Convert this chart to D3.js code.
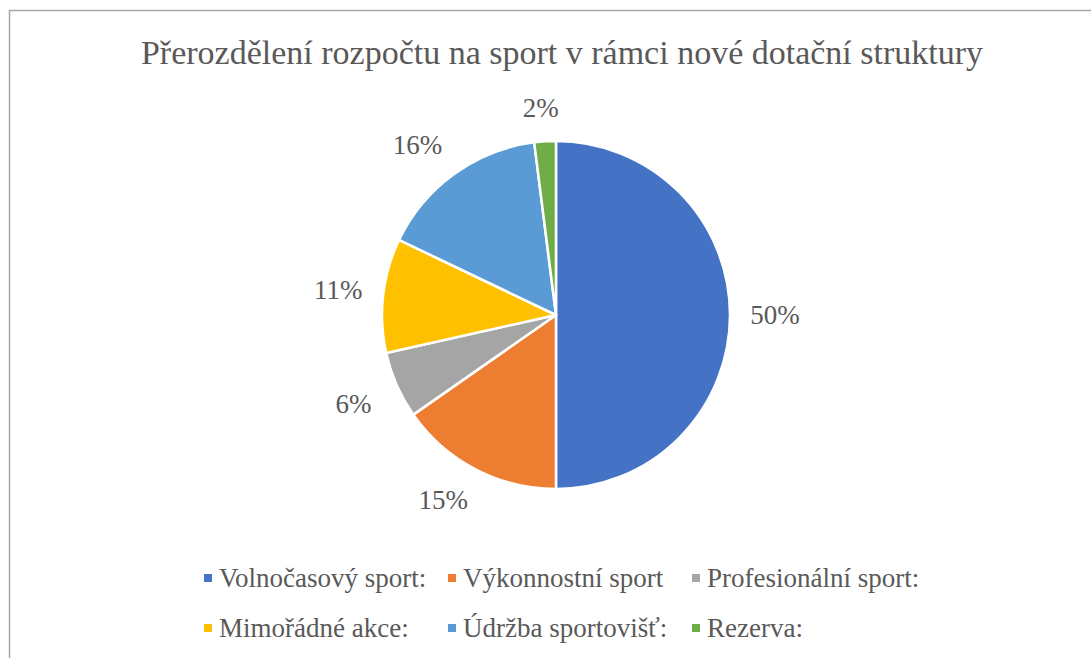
<!DOCTYPE html>
<html>
<head>
<meta charset="utf-8">
<script src="https://cdn.jsdelivr.net/npm/d3@7"></script>
<style>
  body { margin: 0; background: #fff; }
  svg text { font-family: "Liberation Serif", "Times New Roman", serif; fill: #595959; }
</style>
</head>
<body>
<svg width="1091" height="658"></svg>
<script>
// data
var categories = ["Volnočasový sport:", "Výkonnostní sport", "Profesionální sport:",
                  "Mimořádné akce:", "Údržba sportovišť:", "Rezerva:"];
var shares = [50, 15.3, 6.2, 10.6, 15.9, 2];
var colors = ["#4472C4", "#ED7D31", "#A5A5A5", "#FFC000", "#5B9BD5", "#70AD47"];
var title = "Přerozdělení rozpočtu na sport v rámci nové dotační struktury";

var width = 1091, height = 658;
var svg = d3.select("svg");

// chart frame
svg.append("rect")
    .attr("x", 9.5).attr("y", 10.5)
    .attr("width", width + 20).attr("height", height + 20)
    .attr("fill", "#fff")
    .attr("stroke", "#a6a6a6")
    .attr("stroke-width", 1.5);

svg.append("text")
    .attr("x", 562).attr("y", 64)
    .attr("text-anchor", "middle")
    .style("font-size", "34px")
    .text(title);

var cx = 556, cy = 315, r = 174;
var data = categories.map((c, i) => ({ name: c, value: shares[i], color: colors[i] }));

var pie = d3.pie().sort(null).value(d => d.value);
var arc = d3.arc().innerRadius(0).outerRadius(r);
var arcs = pie(data);

var g = svg.append("g").attr("transform", "translate(" + cx + "," + cy + ")");

g.selectAll("path.slice")
    .data(arcs)
    .enter()
    .append("path")
    .attr("class", "slice")
    .attr("d", arc)
    .attr("fill", d => d.data.color)
    .attr("stroke", "#fff")
    .attr("stroke-width", 2.5)
    .attr("stroke-linejoin", "round");

// percentage labels, outside end (box corner sits on the anchor point)
var gap = 20, lw = 25, lh = 13;
var clamp = v => Math.max(-1, Math.min(1, v));
g.selectAll("text.lbl")
    .data(arcs)
    .enter()
    .append("text")
    .attr("class", "lbl")
    .attr("x", d => {
        var s = Math.sin((d.startAngle + d.endAngle) / 2);
        return (r + gap) * s + lw * clamp(2 * s);
    })
    .attr("y", d => {
        var c = Math.cos((d.startAngle + d.endAngle) / 2);
        return -(r + gap) * c - lh * clamp(2 * c);
    })
    .attr("text-anchor", "middle")
    .attr("dominant-baseline", "central")
    .style("font-size", "27px")
    .text(d => Math.round(d.data.value) + "%");

// legend, 3 columns x 2 rows
var legX = d3.scaleBand().domain([0, 1, 2]).range([204, 204 + 3 * 244]);
var legY = d3.scaleBand().domain([0, 1]).range([553, 653]);

var leg = svg.selectAll("g.leg")
    .data(data)
    .enter()
    .append("g")
    .attr("class", "leg")
    .attr("transform", (d, i) => "translate(" + legX(i % 3) + "," + (legY(Math.floor(i / 3)) + 25) + ")");

leg.append("rect")
    .attr("x", 0).attr("y", -4)
    .attr("width", 8).attr("height", 8)
    .attr("fill", d => d.color);

leg.append("text")
    .attr("x", 15).attr("y", 0)
    .attr("dominant-baseline", "central")
    .style("font-size", "27px")
    .text(d => d.name);
</script>
</body>
</html>
